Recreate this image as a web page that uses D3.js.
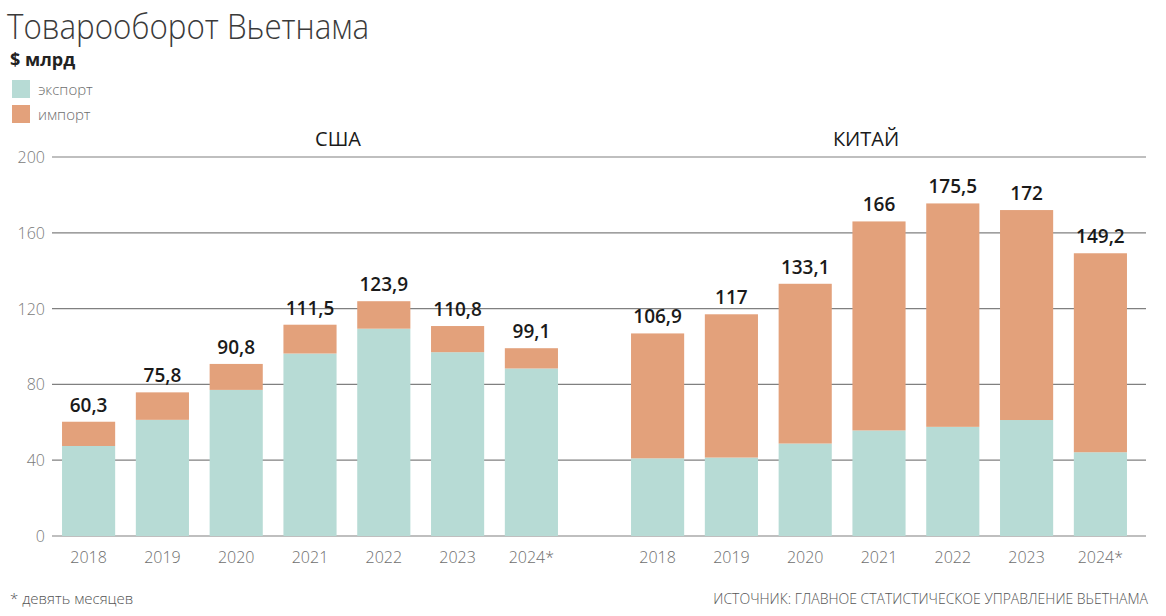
<!DOCTYPE html>
<html><head><meta charset="utf-8">
<script src="https://cdn.jsdelivr.net/npm/d3@7"></script>
<style>body{margin:0;background:#fff;}svg{display:block;font-family:"Open Sans","Noto Sans",sans-serif;}</style>
</head><body>
<svg id="c" width="1166" height="616"></svg>
<script>
const years = ["2018","2019","2020","2021","2022","2023","2024*"];
const groups = ["США","КИТАЙ"];
const usExport = [47.5, 61.3, 77.1, 96.3, 109.4, 97.0, 88.4];
const usImport = [12.8, 14.5, 13.7, 15.2, 14.5, 13.8, 10.7];
const usLabels = ["60,3","75,8","90,8","111,5","123,9","110,8","99,1"];
const cnExport = [41.0, 41.4, 48.8, 55.7, 57.6, 61.2, 44.2];
const cnImport = [65.9, 75.6, 84.3, 110.3, 117.9, 110.8, 105.0];
const cnLabels = ["106,9","117","133,1","166","175,5","172","149,2"];
const yTicks = [0, 40, 80, 120, 160, 200];
const seriesNames = ["экспорт","импорт"];
const colors = ["#b7dbd5","#e3a17b"];

const svg = d3.select("#c");
const y = d3.scaleLinear().domain([0,200]).range([536,157]);

svg.append("g").selectAll("line").data(yTicks).join("line")
  .attr("x1",52).attr("x2",1146).attr("y1",d=>y(d)).attr("y2",d=>y(d))
  .attr("stroke","#808080").attr("stroke-width",1.2);
svg.append("g").selectAll("text").data(yTicks).join("text")
  .attr("x",45).attr("y",d=>y(d)+6).attr("text-anchor","end")
  .attr("font-size",16).attr("fill","#7a7a7a").attr("font-weight",300).text(d=>d);

const groupData = [
  {name:groups[0], exp:usExport, imp:usImport, lab:usLabels, range:[51.7,568.3], tx:338},
  {name:groups[1], exp:cnExport, imp:cnImport, lab:cnLabels, range:[620.7,1137.3], tx:866}
];

groupData.forEach(g=>{
  const x = d3.scaleBand().domain(years).range(g.range).paddingInner(0.28).paddingOuter(0.14);
  const rows = years.map((yr,i)=>({yr, exp:g.exp[i], imp:g.imp[i], lab:g.lab[i]}));
  const stack = d3.stack().keys(["exp","imp"])(rows);
  const gg = svg.append("g");
  stack.forEach((s,si)=>{
    gg.append("g").selectAll("rect").data(s).join("rect")
      .attr("x",d=>x(d.data.yr)).attr("width",x.bandwidth())
      .attr("y",d=>y(d[1])).attr("height",d=>y(d[0])-y(d[1]))
      .attr("fill",colors[si]);
  });
  gg.append("g").selectAll("text").data(rows).join("text")
    .attr("x",d=>x(d.yr)+x.bandwidth()/2).attr("y",d=>y(d.exp+d.imp)-10)
    .attr("text-anchor","middle").attr("font-size",19).attr("fill","#1a1a1a").attr("font-weight",600)
    .text(d=>d.lab);
  gg.append("g").selectAll("text").data(years).join("text")
    .attr("x",d=>x(d)+x.bandwidth()/2).attr("y",563)
    .attr("text-anchor","middle").attr("font-size",16).attr("fill","#6e6e6e").attr("font-weight",300)
    .text(d=>d);
  gg.append("text").attr("x",g.tx).attr("y",146)
    .attr("text-anchor","middle").attr("font-size",20).attr("fill","#1a1a1a").attr("font-weight",500)
    .text(g.name);
});

svg.append("text").attr("x",7).attr("y",39).attr("font-size",34).attr("font-weight",300)
  .attr("fill","#3a3a3a").attr("textLength",362).attr("lengthAdjust","spacingAndGlyphs")
  .text("Товарооборот Вьетнама");
svg.append("text").attr("x",10).attr("y",66).attr("font-size",18).attr("font-weight",700)
  .attr("fill","#222").text("$ млрд");
seriesNames.forEach((n,i)=>{
  svg.append("rect").attr("x",12).attr("y",80+i*25).attr("width",18).attr("height",18).attr("fill",colors[i]);
  svg.append("text").attr("x",38).attr("y",95+i*25).attr("font-size",15).attr("font-weight",300)
    .attr("fill","#6e6e6e").text(n);
});
svg.append("text").attr("x",10).attr("y",604).attr("font-size",15).attr("font-weight",300)
  .attr("fill","#555").text("* девять месяцев");
svg.append("text").attr("x",1148).attr("y",604).attr("text-anchor","end").attr("font-size",14).attr("font-weight",300)
  .attr("fill","#555").text("ИСТОЧНИК: ГЛАВНОЕ СТАТИСТИЧЕСКОЕ УПРАВЛЕНИЕ ВЬЕТНАМА");
</script>
</body></html>
